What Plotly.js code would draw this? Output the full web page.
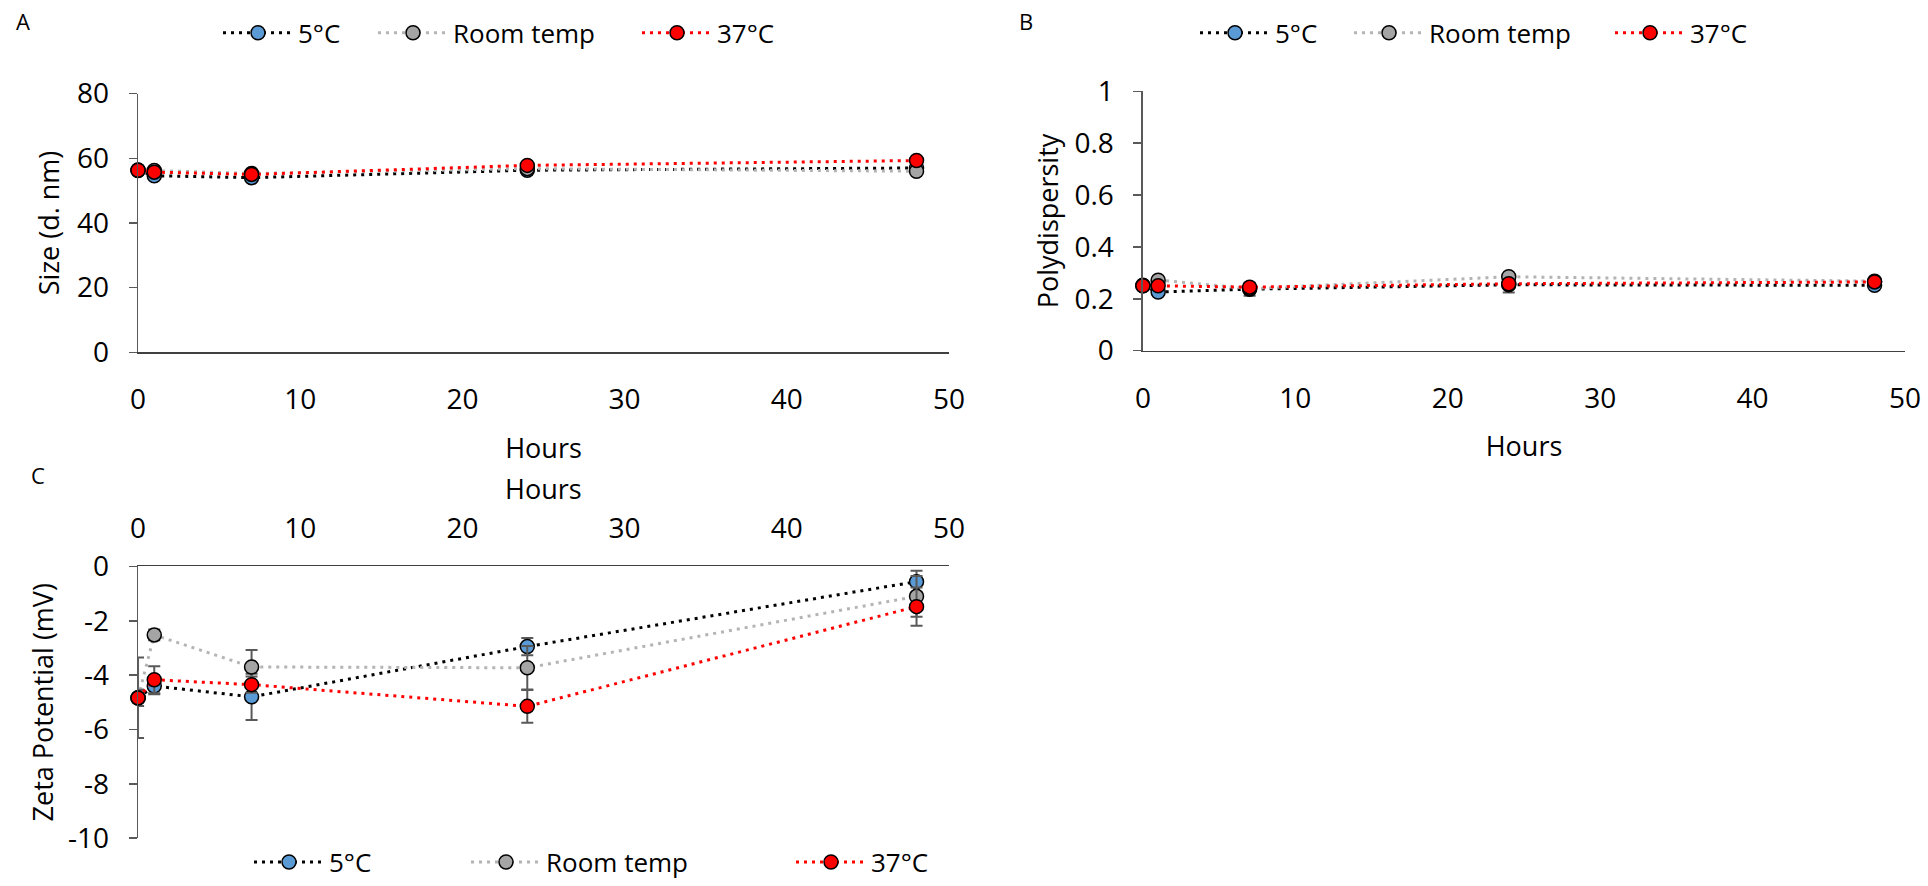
<!DOCTYPE html>
<html>
<head>
<meta charset="utf-8">
<script src="https://cdn.plot.ly/plotly-3.0.1.min.js"></script>
<style>
html,body{margin:0;padding:0;background:#fff;}
#chart{width:1928px;height:886px;}
</style>
</head>
<body>
<div id="chart"></div>
<script>
// ---- Data ----
const hours = [0, 1, 7, 24, 48];
const seriesNames = ['5°C', 'Room temp', '37°C'];

// Panel A: size (d. nm)
const size5 = [56.2, 54.6, 54.0, 56.3, 57.0];
const sizeRT = [56.4, 56.2, 55.3, 56.8, 56.0];
const size37 = [56.3, 55.7, 55.0, 57.8, 59.3];
const sizeErr5 = [0.6, 0.8, 0.7, 0.6, 0.5];
const sizeErrRT = [0.6, 0.6, 0.7, 0.6, 0.6];
const sizeErr37 = [0.6, 0.6, 0.7, 0.6, 0.6];

// Panel B: polydispersity
const pdi5 = [0.250, 0.226, 0.237, 0.254, 0.252];
const pdiRT = [0.252, 0.272, 0.240, 0.285, 0.268];
const pdi37 = [0.250, 0.250, 0.245, 0.258, 0.265];
const pdiErr5 = [0.005, 0.008, 0.025, 0.03, 0.008];
const pdiErrRT = [0.005, 0.008, 0.01, 0.01, 0.008];
const pdiErr37 = [0.005, 0.005, 0.01, 0.01, 0.008];

// Panel C: zeta potential (mV)
const zeta5 = [-4.84, -4.40, -4.80, -2.95, -0.56];
const zetaRT = [-4.83, -2.52, -3.70, -3.73, -1.10];
const zeta37 = [-4.84, -4.17, -4.35, -5.15, -1.48];
const zetaErr5 = [0.3, 0.3, 0.85, 0.32, 0.4];
const zetaErrRT = [1.48, 0.2, 0.62, 0.8, 0.75];
const zetaErr37 = [0.3, 0.5, 0.3, 0.6, 0.7];

// Tick labels
const hourTicks = [0, 10, 20, 30, 40, 50];
const sizeTicks = [0, 20, 40, 60, 80];
const pdiTicks = [0, 0.2, 0.4, 0.6, 0.8, 1];
const pdiTickText = ['0', '0.2', '0.4', '0.6', '0.8', '1'];
const zetaTicks = [-10, -8, -6, -4, -2, 0];
const zetaTickText = ['-10', '-8', '-6', '-4', '-2', '0'];

// ---- Styles ----
const FONT = 'Open Sans, Liberation Sans, sans-serif';
const fillColors = ['#5B9BD5', '#A5A5A5', '#FF0000'];
const lineColors = ['#000000', '#B4B4B4', '#FF0000'];
const dash = '3px,5px';

function mk(x, y, err, i, xa, ya, legend) {
  return {
    x: x, y: y, type: 'scatter', mode: 'lines+markers',
    name: seriesNames[i], xaxis: xa, yaxis: ya, legend: legend,
    line: {color: lineColors[i], width: 3, dash: dash},
    marker: {size: 14, color: fillColors[i], line: {color: '#000', width: 1.5}},
    error_y: {type: 'data', array: err, visible: true, color: '#595959', thickness: 2, width: 6},
    cliponaxis: false
  };
}

const data = [
  mk(hours, size5, sizeErr5, 0, 'x', 'y', 'legend'),
  mk(hours, sizeRT, sizeErrRT, 1, 'x', 'y', 'legend2'),
  mk(hours, size37, sizeErr37, 2, 'x', 'y', 'legend3'),
  mk(hours, pdi5, pdiErr5, 0, 'x2', 'y2', 'legend4'),
  mk(hours, pdiRT, pdiErrRT, 1, 'x2', 'y2', 'legend5'),
  mk(hours, pdi37, pdiErr37, 2, 'x2', 'y2', 'legend6'),
  mk(hours, zeta5, zetaErr5, 0, 'x3', 'y3', 'legend7'),
  mk(hours, zetaRT, zetaErrRT, 1, 'x3', 'y3', 'legend8'),
  mk(hours, zeta37, zetaErr37, 2, 'x3', 'y3', 'legend9')
];

const tickFont = {family: FONT, size: 28, color: '#000'};
const titleFont = {family: FONT, size: 27, color: '#000'};

function xAx(domain, anchor, side, showTitle, standoff) {
  return {
    domain: domain, anchor: anchor, side: side || 'bottom',
    range: [0, 50], tickvals: hourTicks, showgrid: false, zeroline: false,
    showline: true, linecolor: '#404040', linewidth: 1.5, ticks: '',
    tickfont: tickFont, ticklabelstandoff: standoff, automargin: false,
    title: {text: showTitle ? 'Hours' : '', font: titleFont, standoff: 22}
  };
}
function yAx(domain, anchor, range, tv, tt, title, standoff) {
  return {
    domain: domain, anchor: anchor, range: range, tickvals: tv, ticktext: tt,
    showgrid: false, zeroline: false, showline: true, linecolor: '#595959', linewidth: 1.5,
    ticks: 'outside', ticklen: 8, tickcolor: '#595959', tickwidth: 1.5,
    tickfont: tickFont, ticklabelstandoff: 14, automargin: false,
    title: {text: title, font: titleFont, standoff: standoff}
  };
}

const legBase = {orientation: 'h', font: {family: FONT, size: 26, color: '#000'},
  bgcolor: 'rgba(0,0,0,0)', borderwidth: 0, yanchor: 'middle', xanchor: 'left',
  itemwidth: 70};
function leg(markerPx, yPx) {
  return Object.assign({}, legBase, {x: (markerPx - 40) / 1928, y: 1 - yPx / 886});
}

const layout = {
  width: 1928, height: 886,
  margin: {l: 0, r: 0, t: 0, b: 0},
  paper_bgcolor: '#fff', plot_bgcolor: '#fff',
  showlegend: true,
  xaxis: xAx([0.0716, 0.4922], 'y', 'bottom', true, 22),
  yaxis: yAx([0.6005, 0.8939], 'x', [0, 80], sizeTicks, sizeTicks.map(String), 'Size (d. nm)', 9),
  xaxis2: xAx([0.5928, 0.9881], 'y2', 'bottom', true, 22),
  yaxis2: yAx([0.6024, 0.8965], 'x2', [0, 1], pdiTicks, pdiTickText, 'Polydispersity', 8),
  xaxis3: xAx([0.0716, 0.4922], 'y3', 'top', false, 16),
  yaxis3: yAx([0.0497, 0.3578], 'x3', [-10, 0], zetaTicks, zetaTickText, 'Zeta Potential (mV)', 6),
  legend: leg(258, 33),
  legend2: leg(413, 33),
  legend3: leg(677, 33),
  legend4: leg(1235, 33),
  legend5: leg(1389, 33),
  legend6: leg(1650, 33),
  legend7: leg(289, 866),
  legend8: leg(506, 866),
  legend9: leg(831, 866),
  annotations: [
    {text: 'Hours', x: 0.2819, y: 1 - 491 / 886, xref: 'paper', yref: 'paper', xanchor: 'center', yanchor: 'middle', showarrow: false, font: titleFont},
    {text: 'A', x: 0.0119, y: 0.976, xref: 'paper', yref: 'paper', xanchor: 'center', yanchor: 'middle', showarrow: false, font: {family: FONT, size: 22, color: '#000'}},
    {text: 'B', x: 0.532, y: 0.976, xref: 'paper', yref: 'paper', xanchor: 'center', yanchor: 'middle', showarrow: false, font: {family: FONT, size: 22, color: '#000'}},
    {text: 'C', x: 0.0195, y: 0.461, xref: 'paper', yref: 'paper', xanchor: 'center', yanchor: 'middle', showarrow: false, font: {family: FONT, size: 22, color: '#000'}}
  ]
};

Plotly.newPlot('chart', data, layout, {staticPlot: true, displayModeBar: false});
</script>
</body>
</html>
